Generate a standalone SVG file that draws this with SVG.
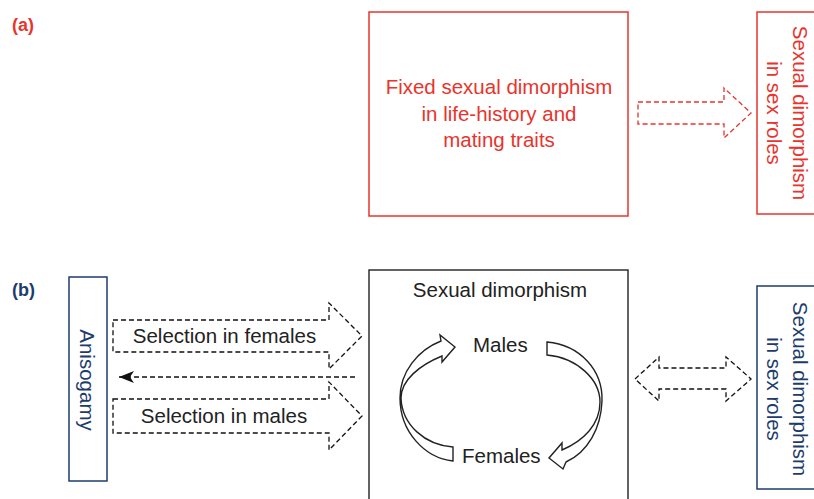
<svg xmlns="http://www.w3.org/2000/svg" width="814" height="499" viewBox="0 0 814 499">
<style>
text{font-family:"Liberation Sans",Arial,sans-serif;font-size:20.5px}
.red{fill:#e8342c}
.navy{fill:#1d3c6c}
.blk{fill:#222}
.lbl{font-size:18px;font-weight:bold}
.rbox{fill:none;stroke:#e8342c;stroke-width:1.5}
.nbox{fill:none;stroke:#1d3c6c;stroke-width:1.5}
.kbox{fill:none;stroke:#222;stroke-width:1.4}
.dash{fill:none;stroke:#111;stroke-width:1.3;stroke-dasharray:5,3}
.rdash{fill:none;stroke:#e8342c;stroke-width:1.3;stroke-dasharray:5,3}
.rib{fill:none;stroke:#222;stroke-width:1.4;stroke-linejoin:miter}
</style>
<defs>
<marker id="ah" markerWidth="16" markerHeight="12" refX="15" refY="6" orient="auto" markerUnits="userSpaceOnUse">
<path d="M15,6 L0,0 L4,6 L0,12 Z" fill="#111"/>
</marker>
</defs>
<text class="lbl red" x="12" y="31">(a)</text>
<text class="lbl navy" x="12" y="296">(b)</text>

<g id="fixed-dimorphism">
<rect class="rbox" x="369" y="12" width="259" height="204"/>
<text class="red" text-anchor="middle" x="499" y="94">Fixed sexual dimorphism</text>
<text class="red" text-anchor="middle" x="499" y="121">in life-history and</text>
<text class="red" text-anchor="middle" x="499" y="147">mating traits</text>
</g>
<g id="sex-roles-a">
<rect class="rbox" x="757" y="12" width="70" height="202"/>
<text class="red" text-anchor="middle" transform="translate(793,113) rotate(90)">Sexual dimorphism</text>
<text class="red" text-anchor="middle" transform="translate(767,113) rotate(90)">in sex roles</text>
</g>

<g id="anisogamy">
<rect class="nbox" x="69" y="277" width="38" height="204"/>
<text class="navy" text-anchor="middle" transform="translate(80,380) rotate(90)">Anisogamy</text>
</g>
<g id="sexual-dimorphism">
<rect class="kbox" x="369" y="270" width="259" height="240"/>
<text class="blk" text-anchor="middle" x="500" y="297">Sexual dimorphism</text>
<text class="blk" x="473" y="352">Males</text>
<text class="blk" x="462" y="463">Females</text>
<path class="rib" d="M441,341 C418,350 400,372 400,398 C400,432 425,458 453,461 L453,447 C425,445 402,425 401,398 C401,380 420,365 442,356 L442,362 L455,347 L440,335 Z"/>
<path class="rib" d="M547,342 C580,345 603,370 602,401 C601,428 588,452 566,462 L563,469 L549,458 L562,443 L562,450 C583,441 600,425 600,402 C600,380 578,358 547,355 Z"/>
</g>
<g id="sex-roles-b">
<rect class="nbox" x="757" y="286" width="70" height="203"/>
<text class="navy" text-anchor="middle" transform="translate(793,389) rotate(90)">Sexual dimorphism</text>
<text class="navy" text-anchor="middle" transform="translate(767,389) rotate(90)">in sex roles</text>
</g>

<g id="connectors">
<polygon class="rdash" points="638,102 724,102 724,88 751,113 724,138 724,124 638,124"/>
<polygon class="dash" points="113,320 329,320 329,303 362,336 329,369 329,352 113,352"/>
<polygon class="dash" points="113,399 329,399 329,382 362,416 329,450 329,433 113,433"/>
<line class="dash" x1="355" y1="377" x2="119" y2="377" marker-end="url(#ah)"/>
<polygon class="dash" points="635,379 659,357 659,368 726,368 726,357 751,379 726,401 726,389 659,389 659,401"/>
<text class="blk" text-anchor="middle" x="224.5" y="343">Selection in females</text>
<text class="blk" text-anchor="middle" x="224" y="423">Selection in males</text>
</g>
</svg>
